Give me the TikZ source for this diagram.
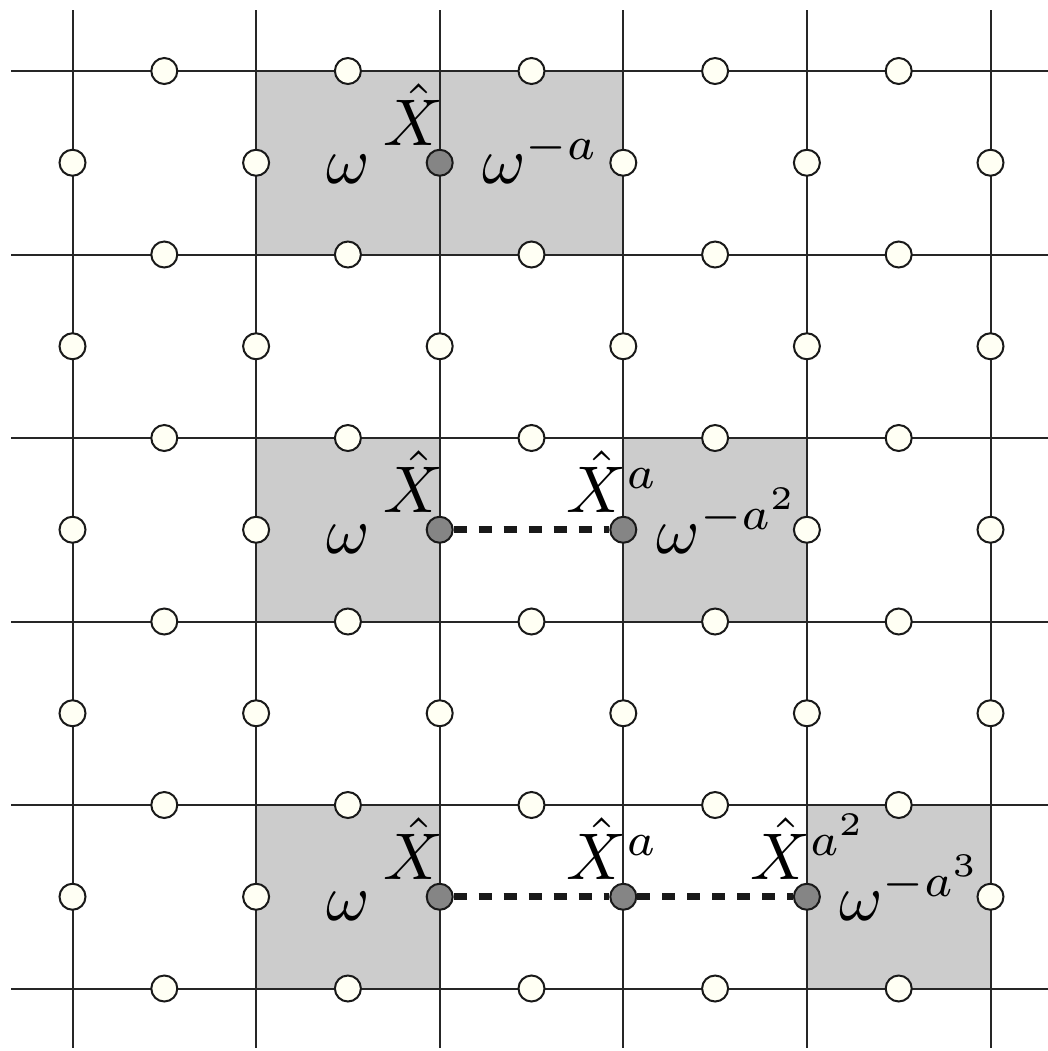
\documentclass[tikz,border=0pt]{standalone}
\usepackage{graphicx}
\usetikzlibrary{calc}
\definecolor{shadegray}{HTML}{CCCCCC}
\definecolor{dotgray}{HTML}{858585}
\definecolor{siteivory}{HTML}{FFFFF4}
\newcommand{\labmath}[1]{\scalebox{3.3}{$#1$}}
\begin{document}
\begin{tikzpicture}[x=0.5pt,y=-0.5pt,
  gridline/.style={line width=1pt, draw=black!85},
  shadebox/.style={fill=shadegray, draw=none},
  site/.style={circle, draw=black!90, line width=1pt, fill=siteivory, minimum size=13pt, inner sep=0pt},
  dk 2-0/.style={fill=dotgray}, dk 2-2/.style={fill=dotgray}, dk 3-2/.style={fill=dotgray},
  dk 2-4/.style={fill=dotgray}, dk 3-4/.style={fill=dotgray}, dk 4-4/.style={fill=dotgray},
  lbl/.style={inner sep=0pt, anchor=base west},
  dashline/.style={line width=3.5pt, draw=black!90, dash pattern=on 6.5pt off 6pt}]
\useasboundingbox (0,0) rectangle (1048,1051);
% shaded squares
\fill[shadebox] (256.1,71) rectangle (623.3,254.5);
\fill[shadebox] (256.1,438) rectangle (439.7,621.5);
\fill[shadebox] (623.3,438) rectangle (806.9,621.5);
\fill[shadebox] (256.1,805) rectangle (439.7,988.5);
\fill[shadebox] (806.9,805) rectangle (990.5,988.5);
% grid
\foreach \i in {0,...,5} {
  \draw[gridline] (72.5+183.6*\i,10) -- (72.5+183.6*\i,1048);
  \draw[gridline] (11,71+183.5*\i) -- (1048,71+183.5*\i);
}
% sites on horizontal lines
\foreach \i in {0,...,4} \foreach \j in {0,...,5}
  \node[site] (h-\i-\j) at (164.3+183.6*\i,71+183.5*\j) {};
% sites on vertical lines
\foreach \i in {0,...,5} \foreach \j in {0,...,4}
  \node[site, dk \i-\j/.try] (v-\i-\j) at (72.5+183.6*\i,162.75+183.5*\j) {};
% dashed strings
\draw[dashline] (v-2-2) -- (v-3-2);
\draw[dashline] (v-2-4) -- (v-3-4);
\draw[dashline] (v-3-4) -- (v-4-4);
% labels top
\node[lbl] (t-w) at ($(v-2-0)+(-114,21)$) {\labmath{\omega}};
\node[lbl] (t-x) at ($(v-2-0)+(-57,-17)$) {\labmath{\hat X}};
\node[lbl] (t-r) at ($(v-2-0)+(42,21)$) {\labmath{\omega^{-a}}};
% labels middle
\node[lbl] (m-w) at ($(v-2-2)+(-114,24)$) {\labmath{\omega}};
\node[lbl] (m-x) at ($(v-2-2)+(-57,-17)$) {\labmath{\hat X}};
\node[lbl] (m-xa) at ($(v-3-2)+(-57,-17)$) {\labmath{\hat X^{a}}};
\node[lbl] (m-r) at ($(v-3-2)+(33,24)$) {\labmath{\omega^{-a^2}}};
% labels bottom
\node[lbl] (b-w) at ($(v-2-4)+(-114,24)$) {\labmath{\omega}};
\node[lbl] (b-x) at ($(v-2-4)+(-57,-17)$) {\labmath{\hat X}};
\node[lbl] (b-xa) at ($(v-3-4)+(-57,-17)$) {\labmath{\hat X^{a}}};
\node[lbl] (b-xaa) at ($(v-4-4)+(-57,-17)$) {\labmath{\hat X^{a^2}}};
\node[lbl] (b-r) at ($(v-4-4)+(32,24)$) {\labmath{\omega^{-a^3}}};
\end{tikzpicture}
\end{document}
